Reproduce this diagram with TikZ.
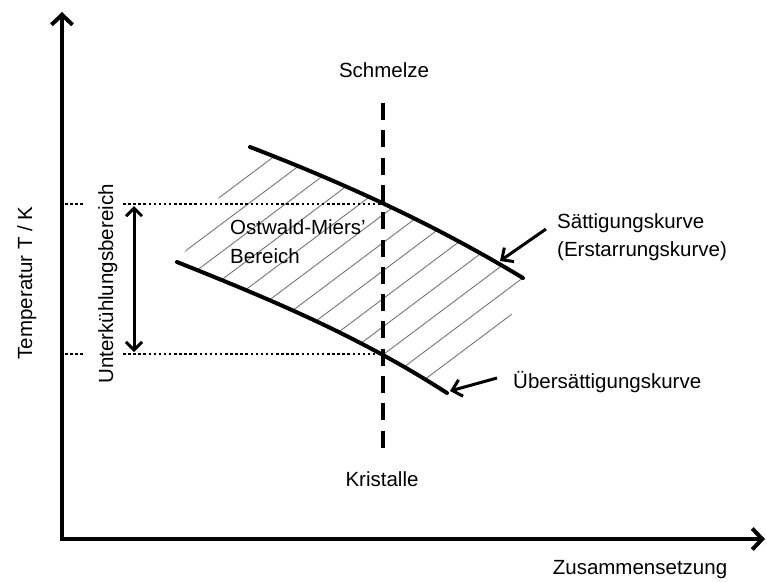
\documentclass[tikz,border=0pt]{standalone}
\usepackage{fontspec}
\setmainfont{Liberation Sans}
\usetikzlibrary{arrows.meta}
\begin{document}
\begin{tikzpicture}[x=1pt,y=-1pt,
  lbl/.style={inner sep=0pt, font=\fontsize{20.5}{24}\selectfont},
  axis/.style={line width=4pt, line join=miter, {Straight Barb[length=10pt,width=21pt]}-{Straight Barb[length=10pt,width=21pt]}},
  curve/.style={line width=4pt, line cap=round},
  hatch/.style={line width=1pt, gray},
  dotline/.style={line width=2pt, dash pattern=on 2.5pt off 2.6pt},
  meltline/.style={line width=4pt, dash pattern=on 17pt off 10.3pt},
  ptr/.style={line width=3pt, -{Straight Barb[length=9pt,width=17pt]}},
  dblarrow/.style={line width=3pt, {Straight Barb[length=8pt,width=16pt]}-{Straight Barb[length=8pt,width=16pt]}}]
\useasboundingbox (0,0) rectangle (767,581);

% coordinates
\coordinate (O) at (62,539);
\coordinate (Ytop) at (62,12);
\coordinate (Xend) at (765,539);
\coordinate (SA) at (250,147);
\coordinate (SB) at (523,278);
\coordinate (UA) at (177,262);
\coordinate (UB) at (447,393);
\coordinate (D1) at (383,103);
\coordinate (D2) at (383,448);
\coordinate (T1) at (383,204);
\coordinate (T2) at (383,354);
\coordinate (L1a) at (65,204);
\coordinate (L1b) at (83,204);
\coordinate (L1c) at (123,204);
\coordinate (L2a) at (65,354);
\coordinate (L2b) at (83,354);
\coordinate (L2c) at (123,354);
\coordinate (A1) at (134,206);
\coordinate (A2) at (134,352);
\coordinate (S1) at (546,229);
\coordinate (S2) at (500,261);
\coordinate (U1) at (497,378);
\coordinate (U2) at (450,391);

% hatching
\begin{scope}
  \clip (SA) .. controls (341,182) and (432,223) .. (SB) -- (510,320) -- (UB)
        .. controls (357,335) and (267,298) .. (UA) -- (190,245) -- cycle;
  \foreach \k in {0,...,12}
    \draw[hatch] (100,{362+28*\k-75}) -- (700,{362+28*\k-525});
\end{scope}

% axes
\draw[axis] (Ytop) -- (O) -- (Xend);

% dotted level lines
\draw[dotline] (L1a) -- (L1b);
\draw[dotline] (L1c) -- (T1);
\draw[dotline] (L2a) -- (L2b);
\draw[dotline] (L2c) -- (T2);

% melt line
\draw[meltline] (D1) -- (D2);

% curves
\draw[curve] (SA) .. controls (341,182) and (432,223) .. (SB);
\draw[curve] (UA) .. controls (267,298) and (357,335) .. (UB);

% arrows
\draw[dblarrow] (A1) -- (A2);
\draw[ptr] (S1) -- (S2);
\draw[ptr] (U1) -- (U2);

% labels
\node[lbl, anchor=base] (schmelze) at (384,77) {Schmelze};
\node[lbl, anchor=base] (kristalle) at (382,486) {Kristalle};
\node[lbl, anchor=base] (xlab) at (640,574) {Zusammensetzung};
\node[lbl, anchor=base, rotate=90] (ylab) at (32,283) {Temperatur T / K};
\node[lbl, anchor=base, rotate=90] (unter) at (113,284) {Unterkühlungsbereich};
\node[lbl, anchor=base west] (ost1) at (230,234) {Ostwald-Miers'};
\node[lbl, anchor=base west] (ost2) at (230,263) {Bereich};
\node[lbl, anchor=base west] (satt1) at (557,228) {Sättigungskurve};
\node[lbl, anchor=base west] (satt2) at (557,256) {(Erstarrungskurve)};
\node[lbl, anchor=base west] (ueber) at (513,388) {Übersättigungskurve};
\end{tikzpicture}
\end{document}
